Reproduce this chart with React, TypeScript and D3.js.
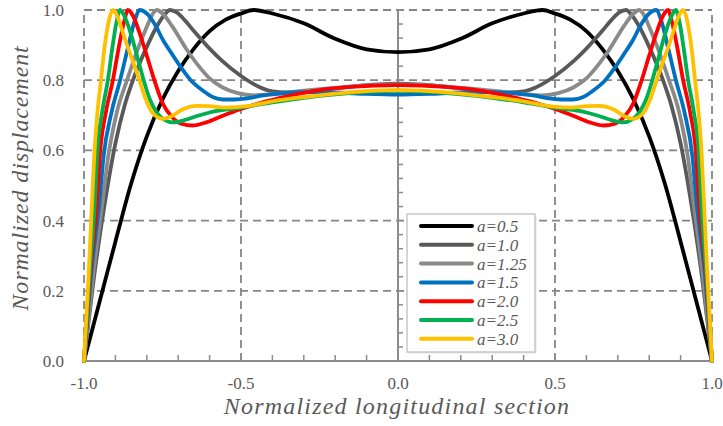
import React from 'react';
import * as d3 from 'd3';

const W = 723;
const H = 426;

const X_TICKS = [-1, -0.5, 0, 0.5, 1];
const X_TICK_LABELS = ['-1.0', '-0.5', '0.0', '0.5', '1.0'];
const Y_TICKS = [0, 0.2, 0.4, 0.6, 0.8, 1];
const Y_TICK_LABELS = ['0.0', '0.2', '0.4', '0.6', '0.8', '1.0'];
const X_TITLE = 'Normalized longitudinal section';
const Y_TITLE = 'Normalized displacement';

const LEGEND_LABELS = ['a=0.5', 'a=1.0', 'a=1.25', 'a=1.5', 'a=2.0', 'a=2.5', 'a=3.0'];
const COLORS = ['#000000', '#595959', '#8a8a8a', '#0070c0', '#ff0000', '#00b050', '#ffc000'];

// a = 0.5
const A05_X = [-1, -0.95, -0.9, -0.85, -0.8, -0.75, -0.7, -0.65, -0.6, -0.55, -0.5, -0.46, -0.4, -0.3, -0.2, -0.1, 0,
  0.1, 0.2, 0.3, 0.4, 0.46, 0.5, 0.55, 0.6, 0.65, 0.7, 0.75, 0.8, 0.85, 0.9, 0.95, 1];
const A05_Y = [0, 0.17, 0.34, 0.505, 0.64, 0.745, 0.826, 0.89, 0.94, 0.972, 0.99, 1, 0.99, 0.962, 0.918, 0.888, 0.88,
  0.888, 0.918, 0.962, 0.99, 1, 0.99, 0.972, 0.94, 0.89, 0.826, 0.745, 0.64, 0.505, 0.34, 0.17, 0];

// a = 1.0
const A10_X = [-1, -0.965, -0.93, -0.9, -0.87, -0.84, -0.8, -0.77, -0.745, -0.726, -0.705, -0.68, -0.65, -0.6, -0.56, -0.5, -0.44, -0.4, -0.35, -0.25, -0.15, 0,
  0.15, 0.25, 0.35, 0.4, 0.44, 0.5, 0.56, 0.6, 0.65, 0.68, 0.705, 0.726, 0.745, 0.77, 0.8, 0.84, 0.87, 0.9, 0.93, 0.965, 1];
const A10_Y = [0, 0.26, 0.47, 0.62, 0.73, 0.81, 0.895, 0.95, 0.985, 1, 0.993, 0.972, 0.94, 0.89, 0.855, 0.812, 0.78, 0.768, 0.765, 0.772, 0.782, 0.79,
  0.782, 0.772, 0.765, 0.768, 0.78, 0.812, 0.855, 0.89, 0.94, 0.972, 0.993, 1, 0.985, 0.95, 0.895, 0.81, 0.73, 0.62, 0.47, 0.26, 0];

// a = 1.25
const A125_X = [-1, -0.97, -0.94, -0.925, -0.895, -0.863, -0.83, -0.8, -0.785, -0.768, -0.75, -0.72, -0.672, -0.63, -0.6, -0.56, -0.51, -0.46, -0.4, -0.3, -0.2, -0.1, 0,
  0.1, 0.2, 0.3, 0.4, 0.46, 0.51, 0.56, 0.6, 0.63, 0.672, 0.72, 0.75, 0.768, 0.785, 0.8, 0.83, 0.863, 0.895, 0.925, 0.94, 0.97, 1];
const A125_Y = [0, 0.25, 0.46, 0.57, 0.71, 0.8, 0.885, 0.952, 0.983, 1, 0.99, 0.955, 0.886, 0.835, 0.805, 0.78, 0.763, 0.757, 0.76, 0.77, 0.778, 0.785, 0.788,
  0.785, 0.778, 0.77, 0.76, 0.757, 0.763, 0.78, 0.805, 0.835, 0.886, 0.955, 0.99, 1, 0.983, 0.952, 0.885, 0.8, 0.71, 0.57, 0.46, 0.25, 0];

// a = 1.5
const A15_X = [-1, -0.977, -0.95, -0.938, -0.912, -0.885, -0.86, -0.84, -0.822, -0.8, -0.775, -0.748, -0.72, -0.694, -0.66, -0.621, -0.59, -0.557, -0.52, -0.48, -0.44, -0.38, -0.3, -0.2, -0.1, 0,
  0.1, 0.2, 0.3, 0.38, 0.44, 0.48, 0.52, 0.557, 0.59, 0.621, 0.66, 0.694, 0.72, 0.748, 0.775, 0.8, 0.822, 0.84, 0.86, 0.885, 0.912, 0.938, 0.95, 0.977, 1];
const A15_Y = [0, 0.25, 0.46, 0.58, 0.71, 0.8, 0.893, 0.965, 1, 0.99, 0.96, 0.914, 0.875, 0.84, 0.8, 0.77, 0.752, 0.745, 0.745, 0.748, 0.755, 0.762, 0.766, 0.765, 0.761, 0.759,
  0.761, 0.765, 0.766, 0.762, 0.755, 0.748, 0.745, 0.745, 0.752, 0.77, 0.8, 0.84, 0.875, 0.914, 0.96, 0.99, 1, 0.965, 0.893, 0.8, 0.71, 0.58, 0.46, 0.25, 0];

// a = 2.0
const A20_X = [-1, -0.98, -0.958, -0.949, -0.93, -0.908, -0.89, -0.872, -0.86, -0.845, -0.825, -0.8, -0.776, -0.75, -0.72, -0.69, -0.653, -0.61, -0.56, -0.5, -0.44, -0.35, -0.25, -0.15, 0,
  0.15, 0.25, 0.35, 0.44, 0.5, 0.56, 0.61, 0.653, 0.69, 0.72, 0.75, 0.776, 0.8, 0.825, 0.845, 0.86, 0.872, 0.89, 0.908, 0.93, 0.949, 0.958, 0.98, 1];
const A20_Y = [0, 0.25, 0.46, 0.59, 0.71, 0.8, 0.89, 0.968, 1, 0.985, 0.94, 0.87, 0.8, 0.735, 0.695, 0.676, 0.671, 0.68, 0.698, 0.718, 0.735, 0.755, 0.772, 0.781, 0.786,
  0.781, 0.772, 0.755, 0.735, 0.718, 0.698, 0.68, 0.671, 0.676, 0.695, 0.735, 0.8, 0.87, 0.94, 0.985, 1, 0.968, 0.89, 0.8, 0.71, 0.59, 0.46, 0.25, 0];

// a = 2.5
const A25_X = [-1, -0.982, -0.965, -0.958, -0.942, -0.924, -0.91, -0.897, -0.885, -0.87, -0.85, -0.83, -0.81, -0.79, -0.77, -0.745, -0.716, -0.68, -0.64, -0.6, -0.55, -0.5, -0.4, -0.3, -0.2, -0.1, 0,
  0.1, 0.2, 0.3, 0.4, 0.5, 0.55, 0.6, 0.64, 0.68, 0.716, 0.745, 0.77, 0.79, 0.81, 0.83, 0.85, 0.87, 0.885, 0.897, 0.91, 0.924, 0.942, 0.958, 0.965, 0.982, 1];
const A25_Y = [0, 0.25, 0.46, 0.59, 0.71, 0.8, 0.89, 0.963, 1, 0.98, 0.93, 0.865, 0.8, 0.745, 0.71, 0.688, 0.68, 0.686, 0.698, 0.708, 0.716, 0.722, 0.737, 0.75, 0.76, 0.767, 0.77,
  0.767, 0.76, 0.75, 0.737, 0.722, 0.716, 0.708, 0.698, 0.686, 0.68, 0.688, 0.71, 0.745, 0.8, 0.865, 0.93, 0.98, 1, 0.963, 0.89, 0.8, 0.71, 0.59, 0.46, 0.25, 0];

// a = 3.0
const A30_X = [-1, -0.985, -0.974, -0.967, -0.957, -0.946, -0.935, -0.922, -0.908, -0.895, -0.876, -0.857, -0.838, -0.82, -0.806, -0.78, -0.75, -0.72, -0.69, -0.64, -0.6, -0.55, -0.48, -0.4, -0.3, -0.2, -0.1, 0,
  0.1, 0.2, 0.3, 0.4, 0.48, 0.55, 0.6, 0.64, 0.69, 0.72, 0.75, 0.78, 0.806, 0.82, 0.838, 0.857, 0.876, 0.895, 0.908, 0.922, 0.935, 0.946, 0.957, 0.967, 0.974, 0.985, 1];
const A30_Y = [0, 0.25, 0.46, 0.59, 0.71, 0.8, 0.89, 0.965, 1, 0.985, 0.935, 0.885, 0.838, 0.79, 0.752, 0.705, 0.69, 0.698, 0.715, 0.727, 0.726, 0.722, 0.726, 0.74, 0.752, 0.762, 0.769, 0.772,
  0.769, 0.762, 0.752, 0.74, 0.726, 0.722, 0.726, 0.727, 0.715, 0.698, 0.69, 0.705, 0.752, 0.79, 0.838, 0.885, 0.935, 0.985, 1, 0.965, 0.89, 0.8, 0.71, 0.59, 0.46, 0.25, 0];

const SERIES_X = [A05_X, A10_X, A125_X, A15_X, A20_X, A25_X, A30_X];
const SERIES_Y = [A05_Y, A10_Y, A125_Y, A15_Y, A20_Y, A25_Y, A30_Y];

const FONT = 'Liberation Serif, DejaVu Serif, serif';
const TEXT_COLOR = '#595959';
const GRID_COLOR = '#858585';
const AXIS_COLOR = '#8c8c8c';

export default function App() {
  const x = d3.scaleLinear().domain([-1, 1]).range([84, 712]);
  const y = d3.scaleLinear().domain([0, 1]).range([361, 10]);

  const line = d3
    .line<[number, number]>()
    .x((d) => x(d[0]))
    .y((d) => y(d[1]))
    .curve(d3.curveMonotoneX);

  const centerTicks = d3.range(0, 1.0001, 0.04);
  const bottomTicks = d3.range(-0.9, 0.9501, 0.1);

  const lgX = 407;
  const lgY = 214;
  const lgW = 128;
  const lgH = 138;
  const rowStart = 226;
  const rowStep = 18.8;

  return (
    <svg
      width={W}
      height={H}
      style={{ position: 'absolute', left: 0, top: 0, display: 'block', background: '#fff' }}
    >
      {/* dashed grid */}
      <g stroke={GRID_COLOR} strokeWidth={1.8} strokeDasharray="8,5" fill="none">
        {Y_TICKS.filter((t) => t > 0).map((t) => (
          <line key={'h' + t} x1={x(-1)} x2={x(1)} y1={y(t)} y2={y(t)} />
        ))}
        {[-1, -0.5, 0.5, 1].map((t) => (
          <line key={'v' + t} x1={x(t)} x2={x(t)} y1={y(0)} y2={y(1)} />
        ))}
      </g>

      {/* solid axes */}
      <g stroke={AXIS_COLOR} strokeWidth={2} fill="none">
        <line x1={x(-1)} x2={x(1)} y1={y(0)} y2={y(0)} />
        <line x1={x(0)} x2={x(0)} y1={y(0)} y2={y(1)} />
        {centerTicks.map((t) => (
          <line key={'ct' + t} x1={x(0)} x2={x(0) + 5} y1={y(t)} y2={y(t)} strokeWidth={1.5} />
        ))}
        {bottomTicks.map((t) => (
          <line key={'bt' + t} x1={x(t)} x2={x(t)} y1={y(0)} y2={y(0) - 6} strokeWidth={1.5} />
        ))}
      </g>

      {/* curves */}
      <g fill="none" strokeWidth={3.8} strokeLinejoin="round" strokeLinecap="round">
        {SERIES_X.map((xs, i) => {
          const pts = d3.zip(xs, SERIES_Y[i]) as [number, number][];
          return <path key={'s' + i} d={line(pts) || ''} stroke={COLORS[i]} />;
        })}
      </g>

      {/* tick labels */}
      <g style={{ fontFamily: FONT }} fontSize={17} fill={TEXT_COLOR}>
        {Y_TICKS.map((t, i) => (
          <text key={'yl' + t} x={64} y={y(t)} dy="0.35em" textAnchor="end">
            {Y_TICK_LABELS[i]}
          </text>
        ))}
        {X_TICKS.map((t, i) => (
          <text key={'xl' + t} x={x(t)} y={389} textAnchor="middle">
            {X_TICK_LABELS[i]}
          </text>
        ))}
      </g>

      {/* axis titles */}
      <text
        x={397}
        y={414}
        textAnchor="middle"
        style={{ fontFamily: FONT, fontStyle: 'italic', letterSpacing: '1.2px' }}
        fontSize={24}
        fill={TEXT_COLOR}
      >
        {X_TITLE}
      </text>
      <text
        transform="translate(28,178) rotate(-90)"
        textAnchor="middle"
        style={{ fontFamily: FONT, fontStyle: 'italic', letterSpacing: '0.9px' }}
        fontSize={24}
        fill={TEXT_COLOR}
      >
        {Y_TITLE}
      </text>

      {/* legend */}
      <rect x={lgX + 1.5} y={lgY + 1.5} width={lgW} height={lgH} fill="#e6e6e6" />
      <rect x={lgX} y={lgY} width={lgW} height={lgH} fill="#ffffff" stroke="#c8c8c8" strokeWidth={1.5} />
      {LEGEND_LABELS.map((lab, i) => {
        const ry = rowStart + i * rowStep;
        return (
          <g key={'lg' + i}>
            <line x1={421} x2={472} y1={ry} y2={ry} stroke={COLORS[i]} strokeWidth={4} strokeLinecap="round" />
            <text
              x={477}
              y={ry}
              dy="0.35em"
              style={{ fontFamily: FONT, fontStyle: 'italic' }}
              fontSize={17}
              fill={TEXT_COLOR}
            >
              {lab}
            </text>
          </g>
        );
      })}
    </svg>
  );
}
